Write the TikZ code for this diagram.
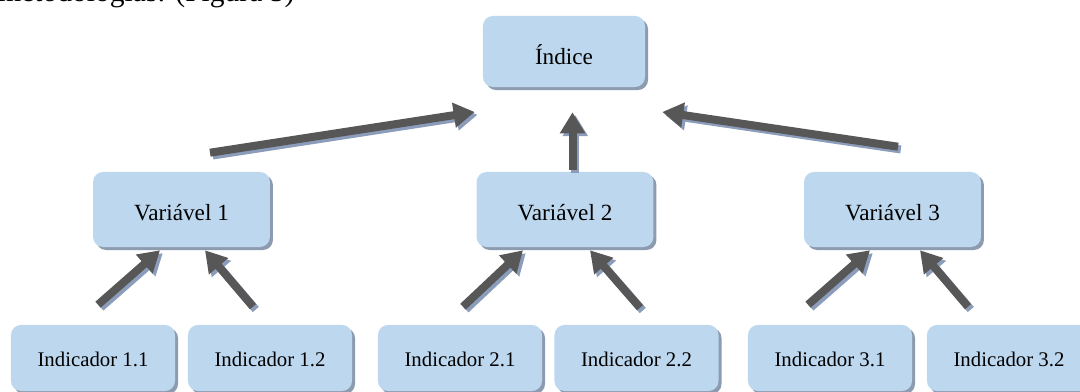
\documentclass[tikz,border=0pt]{standalone}
\usepackage{fontspec}
\setmainfont{Liberation Serif}
\usetikzlibrary{arrows.meta,shadows}
\definecolor{boxfill}{HTML}{BDD7EE}
\definecolor{boxshade}{HTML}{8D9BB0}
\definecolor{arrowgray}{HTML}{575757}
\definecolor{arrowshade}{HTML}{8C9DBB}
\tikzset{
  box/.style={fill=boxfill, rounded corners=0.25cm, inner sep=0pt, text depth=0pt,
    drop shadow={shadow xshift=0.075cm, shadow yshift=-0.075cm, fill=boxshade, opacity=1}},
  topbox/.style={box, minimum width=4.05cm, minimum height=1.775cm, text height=19pt, font=\fontsize{16.5}{20}\selectfont},
  varbox/.style={box, minimum width=4.42cm, minimum height=1.875cm, text height=15pt, font=\fontsize{16.5}{20}\selectfont},
  indbox/.style={box, minimum width=4.1cm, minimum height=1.65cm, text height=11.5pt, font=\fontsize{14.8}{18}\selectfont},
  bigarrow/.style={draw=arrowgray, line width=0.2cm, -{Triangle[width=0.6cm, length=0.525cm]}},
  bigshade/.style={bigarrow, draw=arrowshade, fill=arrowshade, transform canvas={xshift=0.07cm, yshift=-0.07cm}}
}
\begin{document}
\begin{tikzpicture}[x=0.025cm, y=-0.025cm]
\useasboundingbox (0,0) rectangle (1080,392);
% ---------- text of the page above, cut off ----------
\node[anchor=base west, inner sep=0pt, font=\fontsize{21}{25}\selectfont] (caption) at (-2,2) {metodologias: (Figura 5)};
% ---------- boxes ----------
\node[topbox] (indice) at (564,51.5) {Índice};
\node[varbox] (var1) at (181.5,209.5) {Variável 1};
\node[varbox] (var2) at (565,209.5) {Variável 2};
\node[varbox] (var3) at (892.5,209.5) {Variável 3};
\node[indbox] (ind11) at (93,358) {Indicador 1.1};
\node[indbox] (ind12) at (270,358) {Indicador 1.2};
\node[indbox] (ind21) at (460,358) {Indicador 2.1};
\node[indbox] (ind22) at (636.5,358) {Indicador 2.2};
\node[indbox] (ind31) at (830,358) {Indicador 3.1};
\node[indbox] (ind32) at (1009,358) {Indicador 3.2};
% ---------- arrow ends (they stop short of the boxes) ----------
\coordinate (v1up) at ([shift={(28.5,-19)}]var1.north);
\coordinate (v2up) at ([shift={(7.5,-2)}]var2.north);
\coordinate (v3up) at ([shift={(5.5,-25)}]var3.north);
\coordinate (ixa) at ([shift={(-8,60.5)}]indice.west);
\coordinate (ixb) at ([shift={(8.5,25)}]indice.south);
\coordinate (ixc) at ([shift={(17,60.5)}]indice.east);
\coordinate (i11up) at ([shift={(5,-20)}]ind11.north);
\coordinate (i12up) at ([shift={(-17,-18)}]ind12.north);
\coordinate (i21up) at ([shift={(3,-18)}]ind21.north);
\coordinate (i22up) at ([shift={(3.5,-17)}]ind22.north);
\coordinate (i31up) at ([shift={(-22,-20)}]ind31.north);
\coordinate (i32up) at ([shift={(-41,-18)}]ind32.north);
\coordinate (v1a) at ([shift={(-21.5,3)}]var1.south);
\coordinate (v1b) at ([shift={(23.5,3)}]var1.south);
\coordinate (v2a) at ([shift={(-42,3)}]var2.south);
\coordinate (v2b) at ([shift={(25,3)}]var2.south);
\coordinate (v3a) at ([shift={(-22.5,3)}]var3.south);
\coordinate (v3b) at ([shift={(27.5,3)}]var3.south);
% ---------- arrows, each with its shadow ----------
\foreach \s/\t in {v1up/ixa, v2up/ixb, v3up/ixc, i11up/v1a, i12up/v1b, i21up/v2a, i22up/v2b, i31up/v3a, i32up/v3b} {
  \draw[bigshade] (\s) -- (\t);
  \draw[bigarrow] (\s) -- (\t);
}
\end{tikzpicture}
\end{document}
